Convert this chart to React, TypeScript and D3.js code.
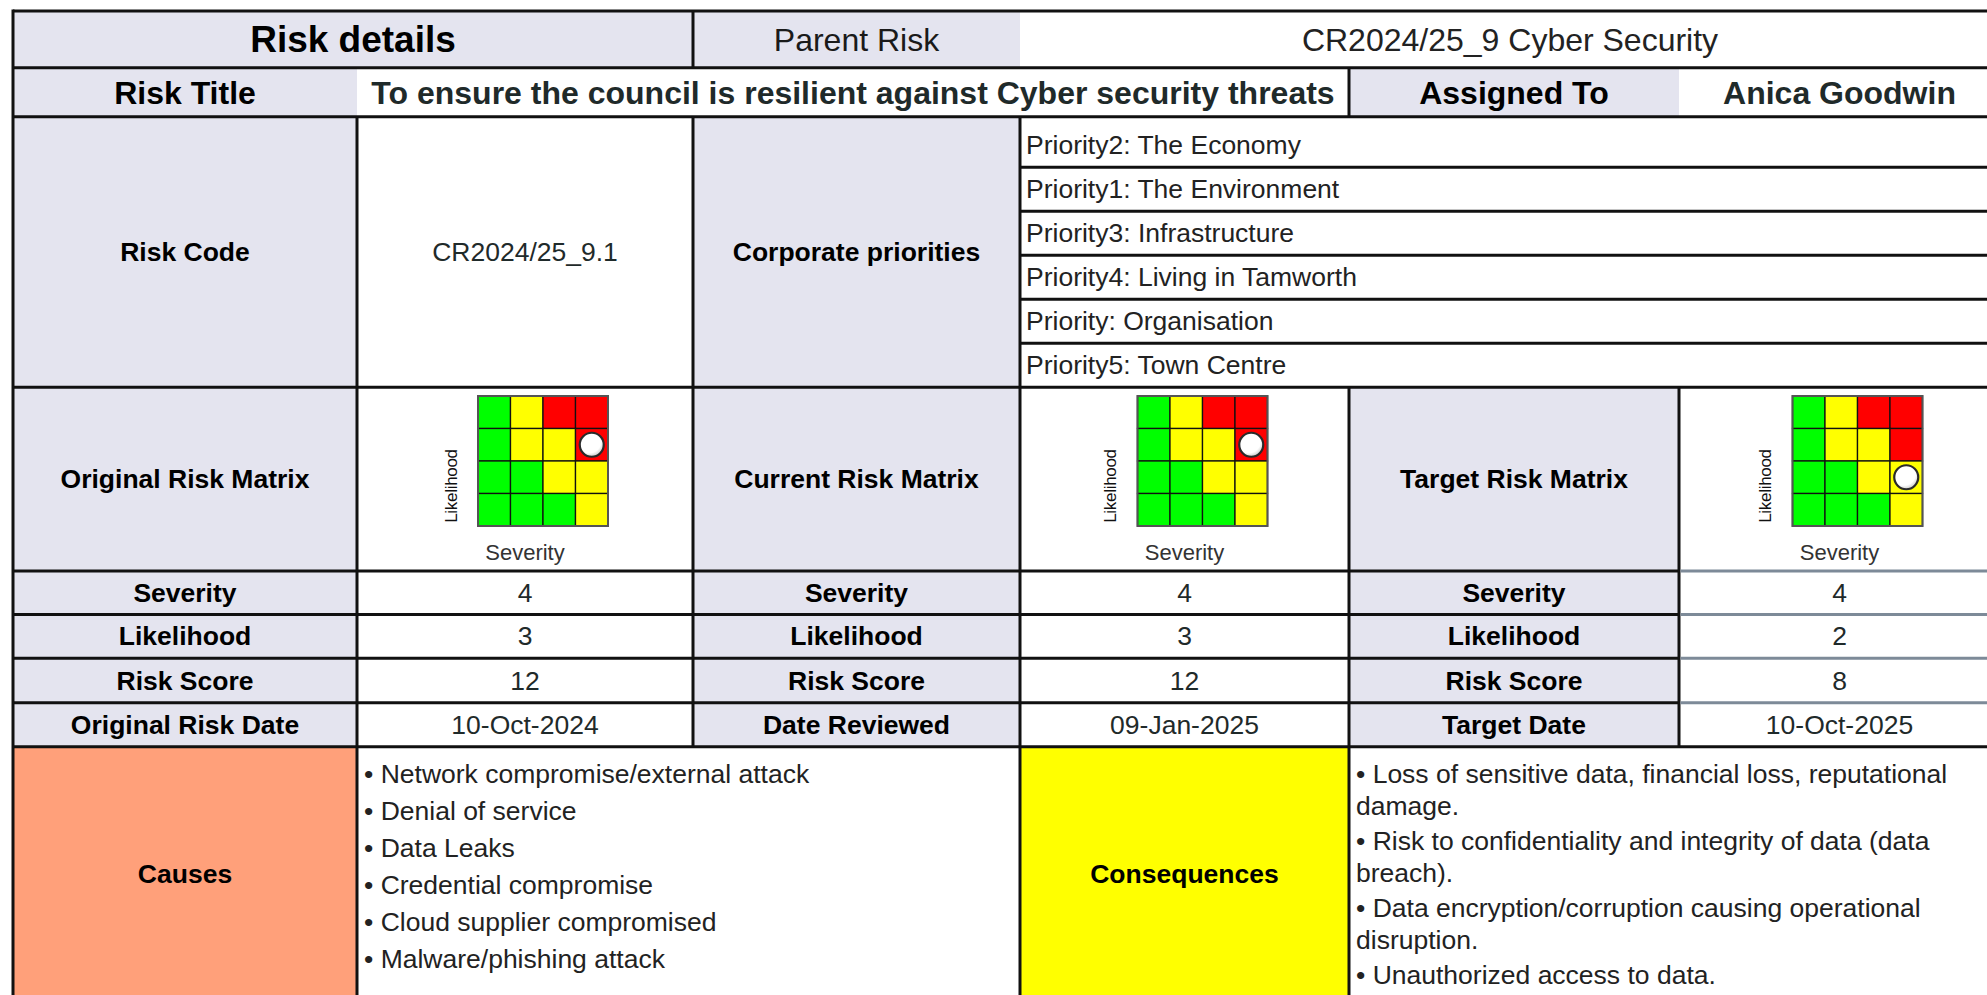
import React from 'react';
import * as d3 from 'd3';

// ---- data read from the form ----
const headerLabels = ['Risk details', 'Parent Risk'];
const parentRisk = 'CR2024/25_9 Cyber Security';
const titleLabels = ['Risk Title', 'Assigned To'];
const riskTitle = 'To ensure the council is resilient against Cyber security threats';
const assignedTo = 'Anica Goodwin';
const riskCode = 'CR2024/25_9.1';
const priorities = [
  'Priority2: The Economy',
  'Priority1: The Environment',
  'Priority3: Infrastructure',
  'Priority4: Living in Tamworth',
  'Priority: Organisation',
  'Priority5: Town Centre',
];
const matrixLabels = ['Original Risk Matrix', 'Current Risk Matrix', 'Target Risk Matrix'];
const severityValues = [4, 4, 4];
const likelihoodValues = [3, 3, 2];
const riskScores = [12, 12, 8];
const dateLabels = ['Original Risk Date', 'Date Reviewed', 'Target Date'];
const dates = ['10-Oct-2024', '09-Jan-2025', '10-Oct-2025'];
const severityLevels = [1, 2, 3, 4];
const likelihoodLevels = [4, 3, 2, 1];
// rows from likelihood 4 (top) down to 1
const matrixRatings = [
  ['G', 'Y', 'R', 'R'],
  ['G', 'Y', 'Y', 'R'],
  ['G', 'G', 'Y', 'Y'],
  ['G', 'G', 'G', 'Y'],
];
const causes = [
  'Network compromise/external attack',
  'Denial of service',
  'Data Leaks',
  'Credential compromise',
  'Cloud supplier compromised',
  'Malware/phishing attack',
];
const consequences = [
  ['Loss of sensitive data, financial loss, reputational', 'damage.'],
  ['Risk to confidentiality and integrity of data (data', 'breach).'],
  ['Data encryption/corruption causing operational', 'disruption.'],
  ['Unauthorized access to data.'],
];

// ---- layout ----
const W = 1987;
const H = 995;
const FONT = '"Liberation Sans", Arial, Helvetica, sans-serif';
const LAV = '#e4e4ef';
const LINE = '#111';
const GREY_LINE = '#7d8a98';
const VALUE = '#1f2a2a';
const ratingColor = { G: '#00ff00', Y: '#ffff00', R: '#ff0000' };

// column and row edges of the form (right edge runs past the window)
const cx = [13, 357, 693, 1020, 1349, 1679, 2000];
const ry = [11, 67.7, 116.7, 387.3, 571, 614.5, 658.3, 702.7, 746.7, 1002];

// first priority row is a little taller than the rest
const prioY = d3.scaleBand().domain(priorities).range([ry[2] + 6.5, ry[3]]);

type CellProps = { x0: number; x1: number; y0: number; y1: number; fill: string };
const Cell = ({ x0, x1, y0, y1, fill }: CellProps) => (
  <rect x={x0} y={y0} width={x1 - x0} height={y1 - y0} fill={fill} />
);

type TProps = { x: number; y: number; text: string | number; size?: number; bold?: boolean; color?: string; anchor?: string };
const T = ({ x, y, text, size = 26.5, bold = false, color, anchor = 'middle' }: TProps) => (
  <text
    x={x}
    y={y}
    fontSize={size}
    fontWeight={bold ? 'bold' : 'normal'}
    fill={color || (bold ? '#000' : VALUE)}
    textAnchor={anchor}
    dominantBaseline="central"
  >
    {text}
  </text>
);

const mid = (a: number, b: number) => (a + b) / 2;

const Matrix = ({ cellX0, cellX1, sev, lik }: { cellX0: number; cellX1: number; sev: number; lik: number }) => {
  const centre = mid(cellX0, cellX1);
  const left = centre - 47;
  const top = 396;
  const size = 130;
  const x = d3.scaleBand<number>().domain(severityLevels).range([left, left + size]);
  const y = d3.scaleBand<number>().domain(likelihoodLevels).range([top, top + size]);
  return (
    <g>
      {likelihoodLevels.map((l, i) =>
        severityLevels.map((s, j) => (
          <rect
            key={`${l}-${s}`}
            x={x(s)}
            y={y(l)}
            width={x.bandwidth()}
            height={y.bandwidth()}
            fill={ratingColor[matrixRatings[i][j] as 'G' | 'Y' | 'R']}
            stroke="#111"
            strokeWidth={1.3}
          />
        ))
      )}
      <rect x={left} y={top} width={size} height={size} fill="none" stroke="#555" strokeWidth={2} />
      <circle
        cx={(x(sev) as number) + x.bandwidth() / 2}
        cy={(y(lik) as number) + y.bandwidth() / 2}
        r={12}
        fill="url(#ballGrad)"
        stroke="#2a2a2a"
        strokeWidth={2.2}
      />
      <text
        transform={`translate(${left - 27},${486}) rotate(-90)`}
        fontSize={17}
        fill="#111"
        textAnchor="middle"
        dominantBaseline="central"
        letterSpacing={-0.3}
      >
        Likelihood
      </text>
      <text x={centre} y={552} fontSize={22} fill="#333" textAnchor="middle" dominantBaseline="central">
        Severity
      </text>
    </g>
  );
};

export default function App() {
  const rowVals = [
    { label: 'Severity', vals: severityValues },
    { label: 'Likelihood', vals: likelihoodValues },
    { label: 'Risk Score', vals: riskScores },
  ];
  const consLines: { text: string; y: number }[] = [];
  let cy = 774.3;
  consequences.forEach((para) => {
    para.forEach((line, k) => {
      consLines.push({ text: k === 0 ? `• ${line}` : line, y: cy });
      cy += k === para.length - 1 ? 35 : 32;
    });
  });

  return (
    <div style={{ position: 'absolute', left: 0, top: 0, width: W, height: H, overflow: 'hidden', background: '#fff' }}>
      <svg width={W} height={H} style={{ display: 'block', fontFamily: FONT }}>
        <defs>
          <radialGradient id="ballGrad" cx="40%" cy="35%" r="65%">
            <stop offset="0%" stopColor="#ffffff" />
            <stop offset="75%" stopColor="#ffffff" />
            <stop offset="100%" stopColor="#cfcfcf" />
          </radialGradient>
        </defs>

        {/* row 0 */}
        <Cell x0={cx[0]} x1={cx[2]} y0={ry[0]} y1={ry[1]} fill={LAV} />
        <Cell x0={cx[2]} x1={cx[3]} y0={ry[0]} y1={ry[1]} fill={LAV} />
        <Cell x0={cx[3]} x1={cx[6]} y0={ry[0]} y1={ry[1]} fill="#fff" />
        <T x={mid(cx[0], cx[2])} y={39.5} text={headerLabels[0]} size={37} bold />
        <T x={mid(cx[2], cx[3])} y={39.5} text={headerLabels[1]} size={32} color="#1a1a1a" />
        <T x={mid(cx[3], cx[6])} y={39.5} text={parentRisk} size={32} color="#222" />

        {/* row 1 */}
        <Cell x0={cx[0]} x1={cx[1]} y0={ry[1]} y1={ry[2]} fill={LAV} />
        <Cell x0={cx[4]} x1={cx[5]} y0={ry[1]} y1={ry[2]} fill={LAV} />
        <T x={mid(cx[0], cx[1])} y={92.5} text={titleLabels[0]} size={32} bold />
        <T x={mid(cx[1], cx[4])} y={92.5} text={riskTitle} size={32} bold color={VALUE} />
        <T x={mid(cx[4], cx[5])} y={92.5} text={titleLabels[1]} size={32} bold />
        <T x={mid(cx[5], cx[6])} y={92.5} text={assignedTo} size={32} bold color={VALUE} />

        {/* row 2 */}
        <Cell x0={cx[0]} x1={cx[1]} y0={ry[2]} y1={ry[3]} fill={LAV} />
        <Cell x0={cx[2]} x1={cx[3]} y0={ry[2]} y1={ry[3]} fill={LAV} />
        <T x={mid(cx[0], cx[1])} y={mid(ry[2], ry[3])} text="Risk Code" bold />
        <T x={mid(cx[1], cx[2])} y={mid(ry[2], ry[3])} text={riskCode} />
        <T x={mid(cx[2], cx[3])} y={mid(ry[2], ry[3])} text="Corporate priorities" bold />
        {priorities.map((p) => (
          <T key={p} x={1026} y={(prioY(p) as number) + prioY.bandwidth() / 2} text={p} anchor="start" color="#222" />
        ))}

        {/* rows 3..7: label columns */}
        {[0, 2, 4].map((c) => (
          <Cell key={c} x0={cx[c]} x1={cx[c + 1]} y0={ry[3]} y1={ry[8]} fill={LAV} />
        ))}
        {matrixLabels.map((m, i) => (
          <g key={m}>
            <T x={mid(cx[2 * i], cx[2 * i + 1])} y={mid(ry[3], ry[4])} text={m} bold />
            <Matrix cellX0={cx[2 * i + 1]} cellX1={cx[2 * i + 2]} sev={severityValues[i]} lik={likelihoodValues[i]} />
          </g>
        ))}
        {rowVals.map((r, k) =>
          [0, 1, 2].map((i) => (
            <g key={`${r.label}-${i}`}>
              <T x={mid(cx[2 * i], cx[2 * i + 1])} y={mid(ry[4 + k], ry[5 + k])} text={r.label} bold />
              <T x={mid(cx[2 * i + 1], cx[2 * i + 2])} y={mid(ry[4 + k], ry[5 + k])} text={r.vals[i]} />
            </g>
          ))
        )}
        {dateLabels.map((d, i) => (
          <g key={d}>
            <T x={mid(cx[2 * i], cx[2 * i + 1])} y={mid(ry[7], ry[8])} text={d} bold />
            <T x={mid(cx[2 * i + 1], cx[2 * i + 2])} y={mid(ry[7], ry[8])} text={dates[i]} />
          </g>
        ))}

        {/* row 8 */}
        <Cell x0={cx[0]} x1={cx[1]} y0={ry[8]} y1={ry[9]} fill="#ffa07a" />
        <Cell x0={cx[3]} x1={cx[4]} y0={ry[8]} y1={ry[9]} fill="#ffff00" />
        <T x={mid(cx[0], cx[1])} y={874} text="Causes" bold />
        <T x={mid(cx[3], cx[4])} y={874} text="Consequences" bold />
        {causes.map((c, i) => (
          <T key={c} x={364} y={773.8 + i * 37} text={`• ${c}`} anchor="start" color="#222" />
        ))}
        {consLines.map((l) => (
          <T key={l.text} x={1356} y={l.y} text={l.text} anchor="start" color="#222" />
        ))}

        {/* grid lines */}
        <g stroke={LINE} strokeWidth={3}>
          {[ry[0], ry[1], ry[2], ry[3], ry[8]].map((y) => (
            <line key={y} x1={cx[0]} x2={W} y1={y} y2={y} />
          ))}
          {priorities.slice(1).map((p) => (
            <line key={p} x1={cx[3]} x2={W} y1={prioY(p)} y2={prioY(p)} />
          ))}
          {[ry[4], ry[5], ry[6], ry[7]].map((y) => (
            <line key={y} x1={cx[0]} x2={cx[5]} y1={y} y2={y} />
          ))}
          <line x1={cx[0]} x2={cx[0]} y1={ry[0] - 1.5} y2={H} />
          <line x1={cx[2]} x2={cx[2]} y1={ry[0]} y2={ry[1]} />
          <line x1={cx[4]} x2={cx[4]} y1={ry[1]} y2={ry[2]} />
          {[1, 2, 3].map((c) => (
            <line key={c} x1={cx[c]} x2={cx[c]} y1={ry[2]} y2={ry[3]} />
          ))}
          {[1, 2, 3, 4, 5].map((c) => (
            <line key={c} x1={cx[c]} x2={cx[c]} y1={ry[3]} y2={ry[8]} />
          ))}
          {[1, 3, 4].map((c) => (
            <line key={c} x1={cx[c]} x2={cx[c]} y1={ry[8]} y2={H} />
          ))}
        </g>
        <g stroke={GREY_LINE} strokeWidth={3}>
          {[ry[4], ry[5], ry[6], ry[7]].map((y) => (
            <line key={y} x1={cx[5] + 1.5} x2={W} y1={y} y2={y} />
          ))}
        </g>
      </svg>
    </div>
  );
}
